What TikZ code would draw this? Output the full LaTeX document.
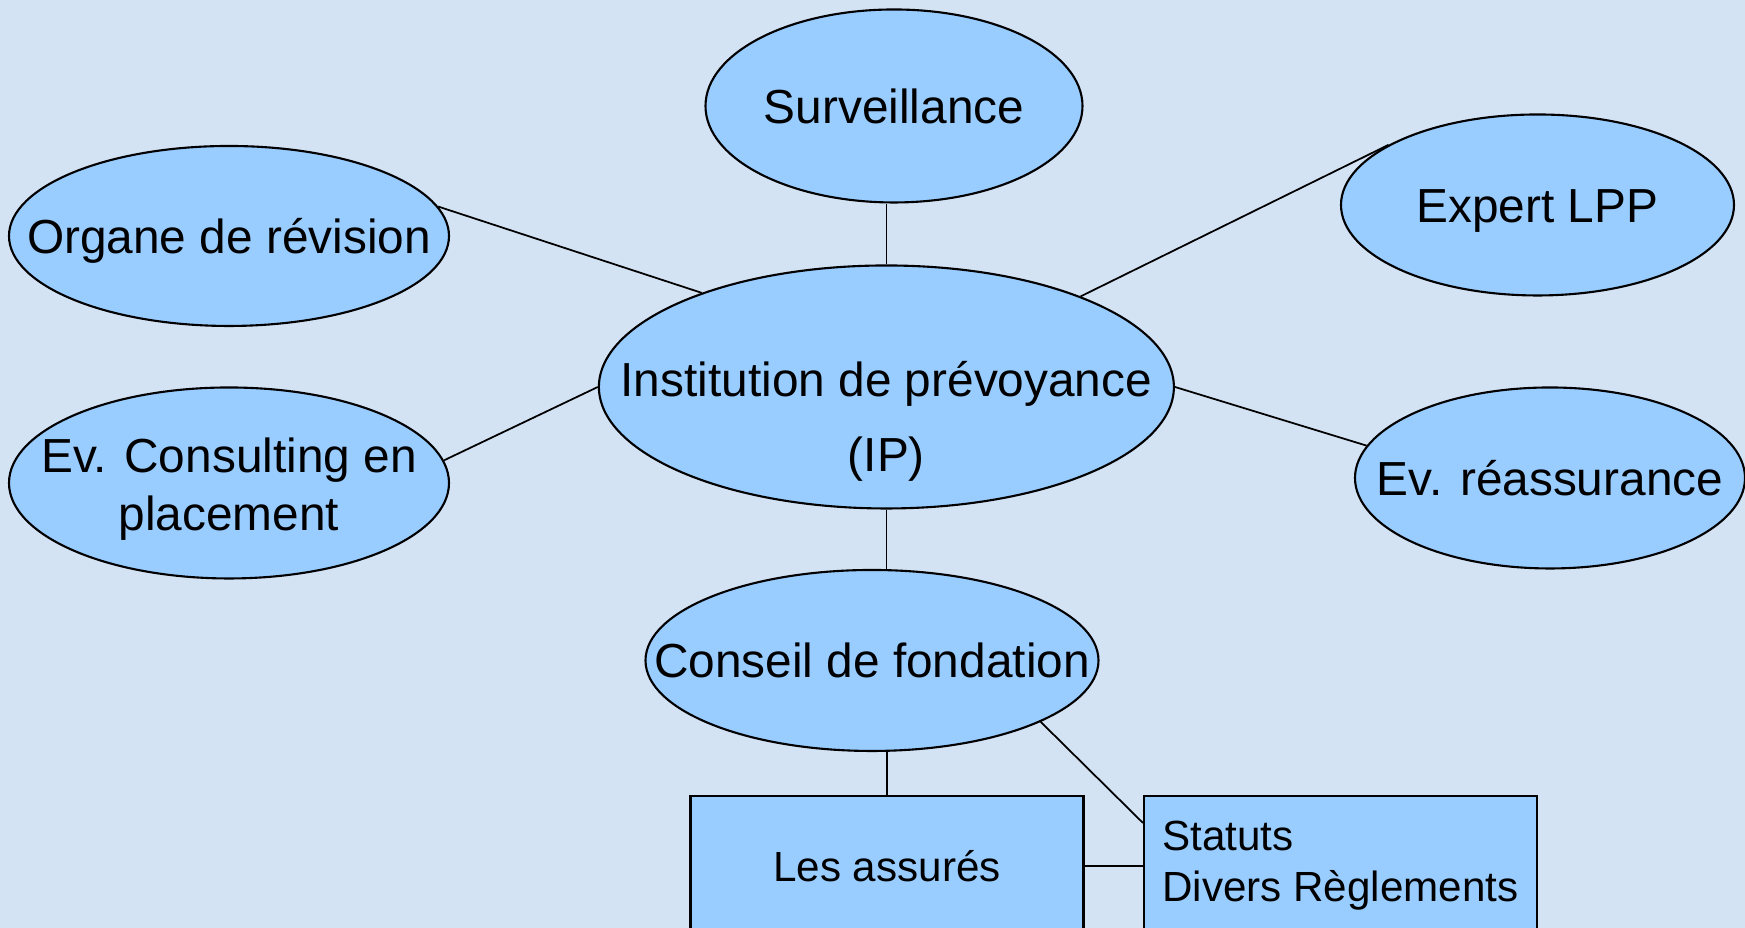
\documentclass[tikz,border=0pt]{standalone}
\usepackage{fontspec}
\setmainfont{Liberation Sans}
\usetikzlibrary{shapes.geometric}
\definecolor{bubblefill}{RGB}{153,204,255}
\definecolor{backblue}{RGB}{212,227,244}

\begin{document}
\begin{tikzpicture}[
  bubble/.style={ellipse,draw,fill=bubblefill,line width=0.6pt,inner sep=0pt},
  txt/.style={font=\fontsize{13.6pt}{16.4pt}\selectfont,align=center,inner sep=0pt},
  box/.style={rectangle,draw,fill=bubblefill,line width=0.6pt,minimum width=3.93cm,
    minimum height=1.4cm,font=\fontsize{12pt}{14.5pt}\selectfont},
  link/.style={line width=0.5pt}]
\fill[backblue] (0,0) rectangle (17.45,9.28);
\useasboundingbox (0,0) rectangle (17.45,9.28);

% the bubbles
\node[bubble,minimum width=3.77cm,minimum height=1.93cm,
  label={[txt]center:Surveillance}] (surv) at (8.94,8.22) {};
\node[bubble,minimum width=4.40cm,minimum height=1.80cm,
  label={[txt,yshift=-0.05cm]center:Organe de r\'evision}] (org) at (2.29,6.92) {};
\node[bubble,minimum width=3.93cm,minimum height=1.81cm,
  label={[txt,yshift=-0.06cm]center:Expert LPP}] (exp) at (15.375,7.23) {};
\node[bubble,minimum width=5.75cm,minimum height=2.43cm,
  label={[txt,yshift=-0.34cm]center:{Institution de pr\'evoyance\\[5pt](IP)}}] (ip) at (8.864,5.41) {};
\node[bubble,minimum width=4.40cm,minimum height=1.91cm,
  label={[txt,yshift=-0.06cm]center:{Ev. Consulting en\\placement}}] (cons) at (2.29,4.45) {};
\node[bubble,minimum width=3.90cm,minimum height=1.81cm,
  label={[txt]center:Ev. r\'eassurance}] (reass) at (15.50,4.50) {};
\node[bubble,minimum width=4.53cm,minimum height=1.81cm,
  label={[txt]center:Conseil de fondation}] (cf) at (8.72,2.675) {};

% the boxes
\node[box] (la) at (8.87,0.62) {Les assur\'es};
\node[box,align=left] (sta) at (13.405,0.62) {Statuts\\Divers R\`eglements};

% links
\draw[link] (ip.north) -- (ip.north |- surv.south);
\draw[link] (org.8) -- (ip.153);
\draw[link] (exp.158) -- (ip.25);
\draw[link] (cons.6) -- (ip.west);
\draw[link] (reass.170) -- (ip.east);
\draw[link] (ip.south) -- (ip.south |- cf.north);
\draw[link] (la.north) -- (la.north |- cf.south);
\draw[link] (cf.340) -- ([yshift=-0.28cm]sta.north west);
\draw[link] (la.east) -- (la.east -| sta.west);
\end{tikzpicture}
\end{document}
